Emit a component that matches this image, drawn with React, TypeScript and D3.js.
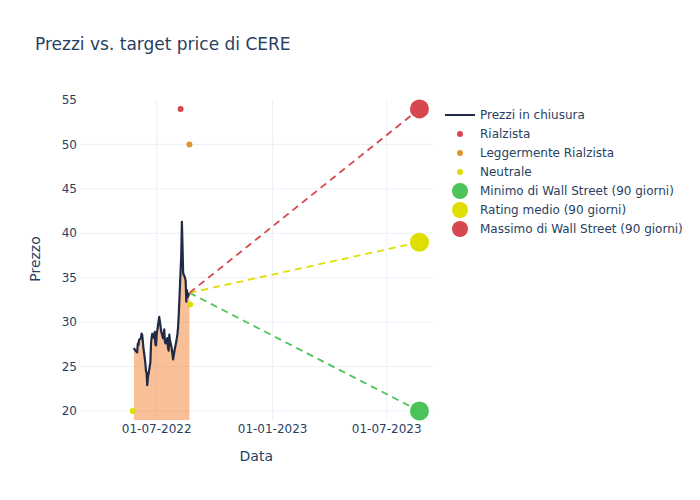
import React from "react";
import * as d3 from "d3";

const priceDates: string[] = [
  "2022-05-26","2022-05-27","2022-05-31","2022-06-01","2022-06-02","2022-06-03",
  "2022-06-06","2022-06-07","2022-06-08","2022-06-09","2022-06-10",
  "2022-06-13","2022-06-14","2022-06-15","2022-06-16","2022-06-17",
  "2022-06-21","2022-06-22","2022-06-23","2022-06-24",
  "2022-06-27","2022-06-28","2022-06-29","2022-06-30","2022-07-01",
  "2022-07-05","2022-07-06","2022-07-07","2022-07-08",
  "2022-07-11","2022-07-12","2022-07-13","2022-07-14","2022-07-15",
  "2022-07-18","2022-07-19","2022-07-20","2022-07-21","2022-07-22",
  "2022-07-25","2022-07-26","2022-07-27","2022-07-28","2022-07-29",
  "2022-08-01","2022-08-02","2022-08-03","2022-08-04","2022-08-05",
  "2022-08-08","2022-08-09","2022-08-10","2022-08-11","2022-08-12",
  "2022-08-15","2022-08-16","2022-08-17","2022-08-18","2022-08-19","2022-08-22",
];
const priceValues: number[] = [
  27.1, 26.9, 26.6, 27.6, 27.4, 28.0,
  28.2, 28.7, 28.6, 27.8, 27.1,
  25.4, 24.5, 24.3, 22.9, 23.7,
  25.5, 27.6, 28.3, 28.7,
  28.2, 28.9, 27.5, 27.4, 28.6,
  30.6, 30.1, 29.6, 29.0,
  28.2, 28.6, 29.2, 27.8, 27.6,
  28.2, 27.1, 26.8, 28.6, 28.0,
  27.0, 26.4, 25.8, 26.2, 26.7,
  27.8, 28.2, 28.7, 29.5, 30.8,
  35.9, 37.5, 41.3, 38.5, 35.5,
  35.0, 34.6, 32.3, 33.6, 32.8, 33.3,
];

const rialzistaDates = ["2022-08-08"];
const rialzistaValues = [54];
const leggRialzistaDates = ["2022-08-22"];
const leggRialzistaValues = [50];
const neutraleDates = ["2022-05-24", "2022-08-23"];
const neutraleValues = [20, 32];

const targetDate = "2023-08-22";
const targetLabels = ["Minimo di Wall Street (90 giorni)", "Rating medio (90 giorni)", "Massimo di Wall Street (90 giorni)"];
const targetValues = [20, 39, 54];
const targetColors = ["#4cc35a", "#e0dd00", "#d6474f"];

const xTickDates = ["2022-07-01", "2023-01-01", "2023-07-01"];
const yTicks = [20, 25, 30, 35, 40, 45, 50, 55];

const parse = (s: string) => new Date(s + "T00:00:00Z");
const fmt = d3.utcFormat("%d-%m-%Y");

const TEXT = "#2a3f5f";
const GRID = "#ebf0f8";
const FONT = "'DejaVu Sans', Verdana, sans-serif";

export default function App() {
  const left = 80, right = 432.5, top = 100, bottom = 420;
  const x = d3.scaleUtc()
    .domain([new Date(Date.UTC(2022, 2, 1, 7)), new Date(Date.UTC(2023, 8, 11, 17))])
    .range([left, right]);
  const y = d3.scaleLinear().domain([18.99, 55]).range([bottom, top]);

  const pts = priceDates.map((d, i) => ({ d: parse(d), v: priceValues[i] }));
  const line = d3.line<{ d: Date; v: number }>().x(p => x(p.d)).y(p => y(p.v));
  const area = d3.area<{ d: Date; v: number }>().x(p => x(p.d)).y0(bottom).y1(p => y(p.v));
  const last = pts[pts.length - 1];
  const tDate = parse(targetDate);

  const legendItems = [
    { label: "Prezzi in chiusura", kind: "line", color: "#1f2a44" },
    { label: "Rialzista", kind: "dot", color: "#d6474f" },
    { label: "Leggermente Rialzista", kind: "dot", color: "#e0952a" },
    { label: "Neutrale", kind: "dot", color: "#e0dd00" },
    { label: targetLabels[0], kind: "big", color: targetColors[0] },
    { label: targetLabels[1], kind: "big", color: targetColors[1] },
    { label: targetLabels[2], kind: "big", color: targetColors[2] },
  ];

  return (
    <svg width={700} height={500} style={{ position: "absolute", left: 0, top: 0, background: "#fff" }} fontFamily={FONT}>
      <rect width={700} height={500} fill="#fff" />
      <text x={35} y={50} fontSize={17} fill={TEXT}>Prezzi vs. target price di CERE</text>
      <defs>
        <clipPath id="plot"><rect x={left} y={top} width={right - left} height={bottom - top} /></clipPath>
      </defs>
      {yTicks.filter(t => t < 55).map(t => (
        <line key={"gy" + t} x1={left} x2={right} y1={y(t)} y2={y(t)} stroke={GRID} strokeWidth={1} />
      ))}
      {xTickDates.map(t => (
        <line key={"gx" + t} x1={x(parse(t))} x2={x(parse(t))} y1={top} y2={bottom} stroke={GRID} strokeWidth={1} />
      ))}
      {yTicks.map(t => (
        <text key={"ty" + t} x={77} y={y(t)} dy="0.35em" textAnchor="end" fontSize={12} fill={TEXT}>{t}</text>
      ))}
      {xTickDates.map(t => (
        <text key={"tx" + t} x={x(parse(t))} y={433} textAnchor="middle" fontSize={12} fill={TEXT}>{fmt(parse(t))}</text>
      ))}
      <text x={(left + right) / 2} y={461} textAnchor="middle" fontSize={14} fill={TEXT}>Data</text>
      <text transform={`translate(40,259) rotate(-90)`} textAnchor="middle" fontSize={14} fill={TEXT}>Prezzo</text>
      <g clipPath="url(#plot)">
        <path d={area(pts) || ""} fill="rgba(244,128,48,0.5)" />
        <path d={line(pts) || ""} fill="none" stroke="#1f2a44" strokeWidth={2.2} strokeLinejoin="round" />
        {targetValues.map((v, i) => (
          <line key={"dl" + i} x1={x(last.d)} y1={y(last.v)} x2={x(tDate)} y2={y(v)}
            stroke={targetColors[i]} strokeWidth={1.8} strokeDasharray="7,5" />
        ))}
        {rialzistaDates.map((d, i) => (
          <circle key={"r" + i} cx={x(parse(d))} cy={y(rialzistaValues[i])} r={3} fill="#d6474f" />
        ))}
        {leggRialzistaDates.map((d, i) => (
          <circle key={"l" + i} cx={x(parse(d))} cy={y(leggRialzistaValues[i])} r={3} fill="#e0952a" />
        ))}
        {neutraleDates.map((d, i) => (
          <circle key={"n" + i} cx={x(parse(d))} cy={y(neutraleValues[i])} r={3} fill="#e0dd00" />
        ))}
      </g>
      {targetValues.map((v, i) => (
        <circle key={"tc" + i} cx={x(tDate)} cy={y(v)} r={9.5} fill={targetColors[i]} />
      ))}
      {legendItems.map((it, i) => {
        const ly = 115 + i * 19;
        return (
          <g key={"lg" + i}>
            {it.kind === "line" && <line x1={445} x2={475} y1={ly} y2={ly} stroke={it.color} strokeWidth={2} />}
            {it.kind === "dot" && <circle cx={460} cy={ly} r={3} fill={it.color} />}
            {it.kind === "big" && <circle cx={460} cy={ly} r={8} fill={it.color} />}
            <text x={480} y={ly} dy="0.35em" fontSize={12} fill={TEXT}>{it.label}</text>
          </g>
        );
      })}
    </svg>
  );
}
